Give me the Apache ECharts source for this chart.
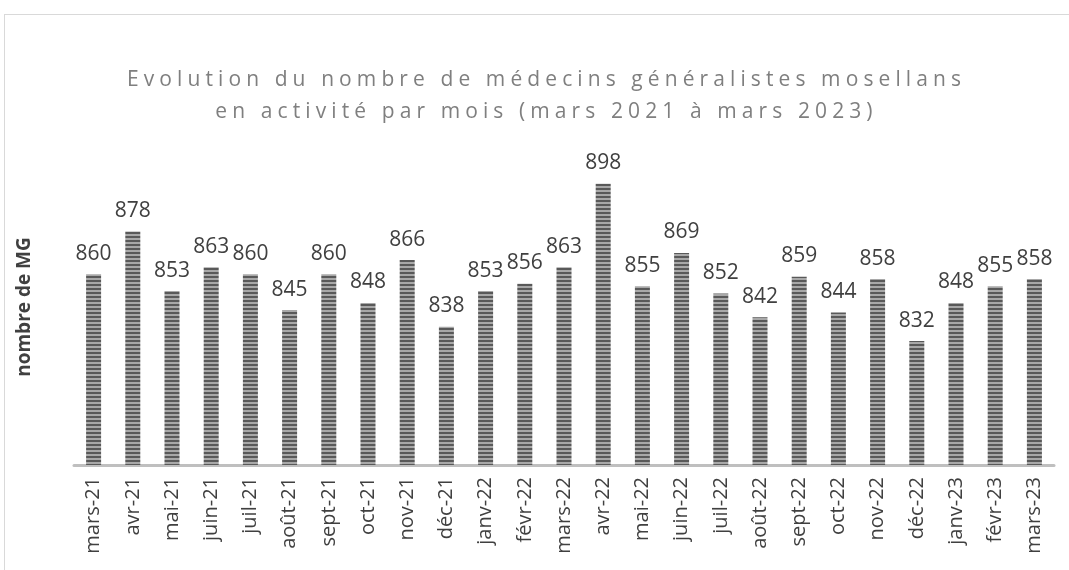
<!DOCTYPE html>
<html>
<head>
<meta charset="utf-8">
<script src="https://cdn.jsdelivr.net/npm/echarts@6/dist/echarts.min.js"></script>
<style>
  html, body { margin: 0; padding: 0; background: #fff; overflow: hidden; }
  #frame { position: absolute; left: 4px; top: 14px; width: 1200px; height: 700px; border: 1px solid #d9d9d9; }
  #title { position: absolute; left: 12px; top: 62px; width: 1069px; text-align: center; font-family: "Open Sans", sans-serif; font-size: 21px; line-height: 32px; color: #7f7f7f; letter-spacing: 5.1px; }
  #chart { position: absolute; left: 0; top: 0; width: 1069px; height: 570px; }
</style>
</head>
<body>
<div id="frame"></div>
<div id="chart"></div>
<div id="title">Evolution du nombre de médecins généralistes mosellans<br>en activité par mois (mars 2021 à mars 2023)</div>
<script>
const months = ["mars-21", "avr-21", "mai-21", "juin-21", "juil-21", "août-21", "sept-21", "oct-21", "nov-21", "déc-21",
  "janv-22", "févr-22", "mars-22", "avr-22", "mai-22", "juin-22", "juil-22", "août-22", "sept-22", "oct-22", "nov-22", "déc-22",
  "janv-23", "févr-23", "mars-23"];
const doctors = [860, 878, 853, 863, 860, 845, 860, 848, 866, 838, 853, 856, 863, 898, 855, 869, 852, 842, 859, 844, 858, 832, 848, 855, 858];

// striped fill like the original
const tile = document.createElement("canvas");
tile.width = 4;
tile.height = 4;
const tctx = tile.getContext("2d");
tctx.fillStyle = "#a8a8a8";
tctx.fillRect(0, 0, 4, 4);
tctx.fillStyle = "#595959";
tctx.fillRect(0, 0, 4, 2);

const chart = echarts.init(document.getElementById("chart"));
chart.setOption({
  animation: false,
  grid: { left: 74, right: 15, top: 179, bottom: 105 },
  xAxis: {
    type: "category",
    data: months,
    axisLine: { lineStyle: { color: "#bfbfbf", width: 3 } },
    axisTick: { show: false },
    axisLabel: {
      rotate: 90,
      margin: 12,
      color: "#404040",
      fontFamily: "Open Sans",
      fontSize: 20
    }
  },
  yAxis: {
    type: "value",
    min: 780,
    max: 900,
    axisLine: { show: false },
    axisTick: { show: false },
    axisLabel: { show: false },
    splitLine: { show: false },
    name: "nombre de MG",
    nameLocation: "middle",
    nameGap: 40,
    nameTextStyle: {
      fontFamily: "Open Sans",
      fontWeight: "bold",
      fontSize: 19,
      color: "#404040",
      padding: [0, 0, 0, 30]
    }
  },
  series: [{
    type: "bar",
    data: doctors,
    barWidth: 15,
    itemStyle: { color: { image: tile, repeat: "repeat" } },
    label: {
      show: true,
      position: "top",
      distance: 10,
      color: "#404040",
      fontFamily: "Open Sans",
      fontSize: 21
    }
  }]
});
</script>
</body>
</html>
